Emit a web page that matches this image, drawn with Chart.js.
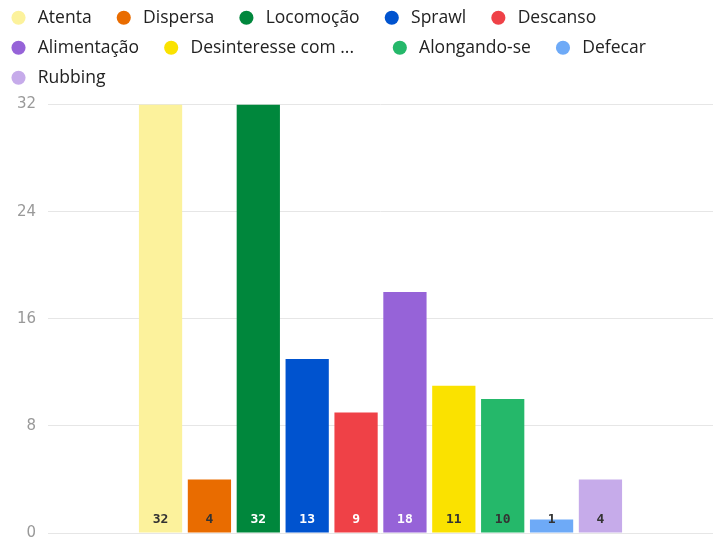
<!DOCTYPE html>
<html>
<head>
<meta charset="utf-8">
<script src="https://cdn.jsdelivr.net/npm/chart.js@4/dist/chart.umd.min.js"></script>
<style>
  html, body { margin: 0; padding: 0; background: #fff; }
  .chart-container { position: relative; width: 713px; height: 543px; }
</style>
</head>
<body>
<div class="chart-container">
  <canvas id="grafik"></canvas>
</div>
<script>
const categories = ['Atenta', 'Dispersa', 'Locomoção', 'Sprawl', 'Descanso',
  'Alimentação', 'Desinteresse com ...', 'Alongando-se', 'Defecar', 'Rubbing'];
const values = [32, 4, 32, 13, 9, 18, 11, 10, 1, 4];
const colors = ['#fcf29c', '#e96c00', '#00873c', '#0053cf', '#ef4147',
  '#9663d8', '#fae200', '#25b86a', '#6eaaf7', '#c6abea'];
const labelColors = ['#333', '#333', '#fff', '#fff', '#fff',
  '#fff', '#333', '#333', '#333', '#333'];
const yTicks = [0, 8, 16, 24, 32];

// label angka di dasar batang
const valueLabels = {
  id: 'valueLabels',
  afterLayout(chart) {
    // geser legenda sedikit ke atas
    chart.legend.top -= 8;
    chart.legend.bottom -= 8;
  },
  afterDatasetsDraw(chart) {
    const ctx = chart.ctx;
    const yScale = chart.scales.y;
    ctx.save();
    ctx.font = 'bold 13px "DejaVu Sans Mono"';
    ctx.textAlign = 'center';
    ctx.textBaseline = 'middle';
    chart.data.datasets.forEach((ds, i) => {
      const bar = chart.getDatasetMeta(i).data[0];
      ctx.fillStyle = labelColors[i];
      ctx.fillText(String(ds.data[0]), bar.x, yScale.getPixelForValue(0) - 13);
    });
    ctx.restore();
  }
};

const datasets = categories.map((name, i) => ({
  label: name,
  data: [values[i]],
  backgroundColor: colors[i],
  borderWidth: 0,
  categoryPercentage: 0.735,
  barPercentage: 0.885,
}));

new Chart(document.getElementById('grafik'), {
  type: 'bar',
  data: { labels: [''], datasets: datasets },
  options: {
    responsive: true,
    maintainAspectRatio: false,
    animation: false,
    layout: { padding: 0 },
    plugins: {
      legend: {
        align: 'start',
        labels: {
          usePointStyle: true,
          pointStyle: 'circle',
          boxWidth: 12,
          boxHeight: 10,
          padding: 12.5,
          color: '#222',
          font: { family: 'Open Sans', size: 17.5 },
          // spasi tambahan supaya jarak antar item mirip aslinya
          generateLabels(chart) {
            const items = Chart.defaults.plugins.legend.labels.generateLabels(chart);
            items.forEach(it => {
              it.text = ' ' + it.text + (it.text.endsWith('...') ? '      ' : '   ');
            });
            return items;
          },
        },
      },
      tooltip: { enabled: false },
    },
    scales: {
      x: { display: false },
      y: {
        min: 0,
        max: 32,
        afterBuildTicks(axis) { axis.ticks = yTicks.map(v => ({ value: v })); },
        afterFit(axis) {
          axis.width = 48;
          axis.paddingTop = 104.5;
          axis.paddingBottom = 10;
        },
        border: { display: false },
        grid: { color: '#e6e6e6', drawTicks: false },
        ticks: {
          padding: 12,
          color: '#999',
          font: { family: 'DejaVu Sans', size: 15 },
        },
      },
    },
  },
  plugins: [valueLabels],
});
</script>
</body>
</html>
